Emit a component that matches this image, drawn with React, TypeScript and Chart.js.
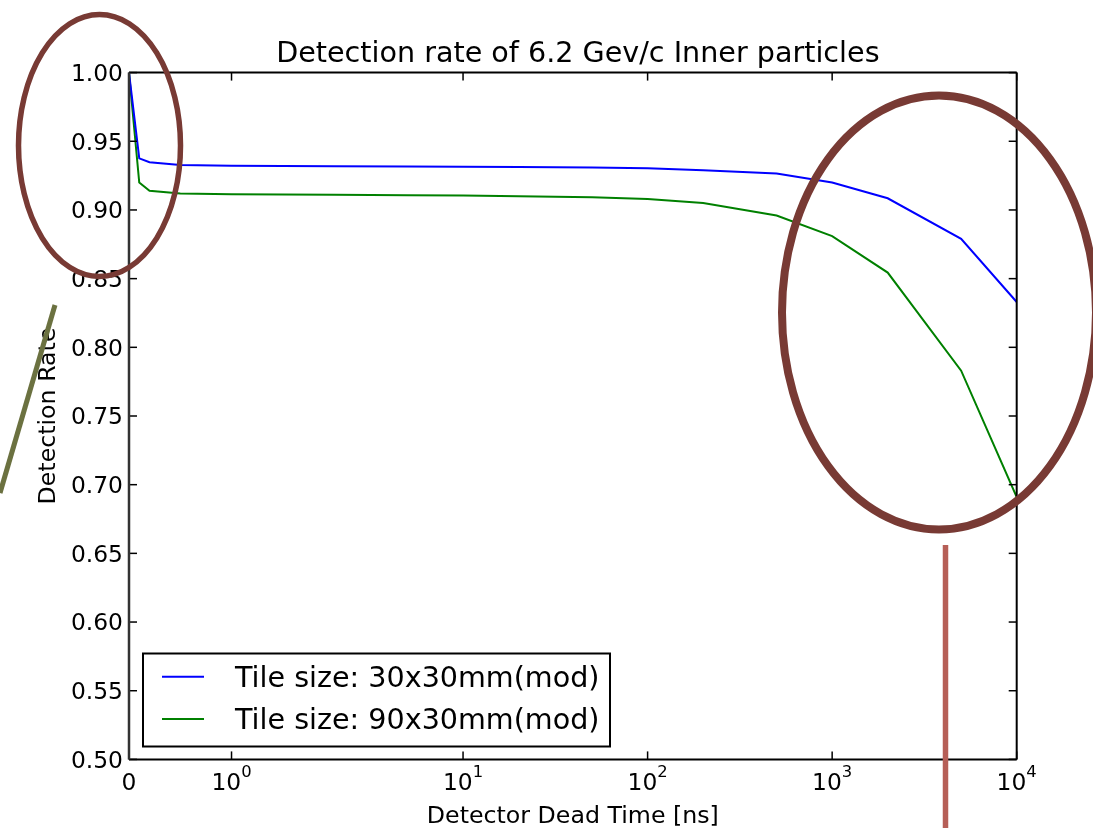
import { useEffect, useRef } from 'react';
import { Chart, registerables } from 'chart.js';

Chart.register(...registerables);

// ---- data ----
const deadTimes = [0, 0.1, 0.2, 0.5, 1, 2, 5, 10, 20, 50, 100, 200, 500, 1000, 2000, 5000, 10000];
const rate30x30 = [1.0, 0.9376, 0.9347, 0.9328, 0.9322, 0.9319, 0.9317, 0.9315, 0.9313, 0.931, 0.9303, 0.929, 0.9265, 0.92, 0.9085, 0.879, 0.833];
const rate90x30 = [1.0, 0.92, 0.914, 0.912, 0.9114, 0.9111, 0.9108, 0.9105, 0.91, 0.9093, 0.908, 0.905, 0.896, 0.881, 0.8544, 0.783, 0.691];
const seriesLabels = ['Tile size: 30x30mm(mod)', 'Tile size: 90x30mm(mod)'];
const seriesColors = ['#0000ff', '#008000'];
const xTickValues = [0, 1, 10, 100, 1000, 10000];
const xTickExponents: (number | null)[] = [null, 0, 1, 2, 3, 4];
const yTickValues = [0.5, 0.55, 0.6, 0.65, 0.7, 0.75, 0.8, 0.85, 0.9, 0.95, 1.0];
const titleText = 'Detection rate of 6.2 Gev/c Inner particles';
const xLabelText = 'Detector Dead Time [ns]';
const yLabelText = 'Detection Rate';

// symmetric log transform (matplotlib symlog, linthresh=2, linscale=1)
const LIN_THRESH = 2;
const LIN_SCALE = 1 / (1 - 1 / 10);
function symlog(v: number): number {
  const a = Math.abs(v);
  const s = Math.sign(v);
  return a <= LIN_THRESH ? (s * a / LIN_THRESH) * LIN_SCALE : s * (LIN_SCALE + Math.log10(a / LIN_THRESH));
}

const FONT = '"DejaVu Sans", "Liberation Sans", sans-serif';

const mplPlugin = {
  id: 'mplDecor',
  afterDraw(chart: any) {
    const { ctx, chartArea } = chart;
    const { left, right, top, bottom } = chartArea;
    const xs = chart.scales.x;
    const ys = chart.scales.y;
    ctx.save();
    const line = (x1: number, y1: number, x2: number, y2: number) => {
      ctx.beginPath();
      ctx.moveTo(x1, y1);
      ctx.lineTo(x2, y2);
      ctx.stroke();
    };

    // ticks (inward, both sides)
    ctx.strokeStyle = '#000';
    ctx.lineWidth = 1.5;
    ctx.fillStyle = '#000';
    ctx.font = `23.4px ${FONT}`;
    ctx.textAlign = 'right';
    ctx.textBaseline = 'alphabetic';
    yTickValues.forEach((v) => {
      const py = ys.getPixelForValue(v);
      line(left, py, left + 8, py);
      line(right, py, right - 8, py);
      ctx.fillText(v.toFixed(2), left - 6, py + 8.4);
    });

    xTickValues.forEach((v, i) => {
      const px = xs.getPixelForValue(symlog(v));
      line(px, bottom, px, bottom - 8);
      line(px, top, px, top + 8);
      const exp = xTickExponents[i];
      const base = 790;
      if (exp === null) {
        ctx.font = `23.4px ${FONT}`;
        ctx.textAlign = 'center';
        ctx.fillText(String(v), px, base);
      } else {
        ctx.font = `23.4px ${FONT}`;
        const wBase = ctx.measureText('10').width;
        ctx.font = `16.4px ${FONT}`;
        const wExp = ctx.measureText(String(exp)).width;
        const total = wBase + wExp;
        const sx = px - total / 2;
        ctx.textAlign = 'left';
        ctx.font = `23.4px ${FONT}`;
        ctx.fillText('10', sx, base);
        ctx.font = `16.4px ${FONT}`;
        ctx.fillText(String(exp), sx + wBase, base - 13);
      }
    });

    // spines
    ctx.lineWidth = 2;
    ctx.strokeStyle = '#000';
    line(left, top, right, top);
    line(right, top, right, bottom);
    line(left, bottom, right, bottom);
    ctx.strokeStyle = '#333';
    ctx.lineWidth = 2.5;
    line(left, top, left, bottom);

    // title
    ctx.fillStyle = '#000';
    ctx.font = `28.6px ${FONT}`;
    ctx.textAlign = 'center';
    ctx.fillText(titleText, (left + right) / 2 + 5, 62);

    // x label
    ctx.font = `23.7px ${FONT}`;
    ctx.fillText(xLabelText, (left + right) / 2, 823);

    // y label
    ctx.save();
    ctx.translate(55, (top + bottom) / 2);
    ctx.rotate(-Math.PI / 2);
    ctx.textAlign = 'center';
    ctx.fillText(yLabelText, 0, 0);
    ctx.restore();

    // legend
    const lx = 143, ly = 653.5, lw = 467, lh = 93;
    ctx.fillStyle = '#fff';
    ctx.fillRect(lx, ly, lw, lh);
    ctx.strokeStyle = '#000';
    ctx.lineWidth = 2;
    ctx.strokeRect(lx, ly, lw, lh);
    const rowsY = [676.7, 719];
    const rowsBase = [686.7, 728.5];
    seriesLabels.forEach((lab, i) => {
      ctx.strokeStyle = seriesColors[i];
      ctx.lineWidth = 2;
      line(162, rowsY[i], 204, rowsY[i]);
      ctx.fillStyle = '#000';
      ctx.font = `28.6px ${FONT}`;
      ctx.textAlign = 'left';
      ctx.fillText(lab, 235, rowsBase[i]);
    });

    // hand-drawn annotations overlaid on the figure
    ctx.strokeStyle = '#783a34';
    ctx.lineWidth = 5.5;
    ctx.beginPath();
    ctx.ellipse(99.5, 145.5, 81, 131, 0, 0, Math.PI * 2);
    ctx.stroke();
    ctx.lineWidth = 8;
    ctx.beginPath();
    ctx.ellipse(939, 312.5, 157, 217, 0, 0, Math.PI * 2);
    ctx.stroke();
    ctx.strokeStyle = '#6b7140';
    ctx.lineWidth = 5;
    line(55, 305, 0, 493);
    ctx.strokeStyle = '#b65f57';
    ctx.lineWidth = 5.5;
    line(945.5, 545, 945.5, 828);

    ctx.restore();
  },
};

export default function App() {
  const ref = useRef<HTMLCanvasElement>(null);
  useEffect(() => {
    document.body.style.margin = '0';
    const canvas = ref.current;
    if (!canvas) return;
    const chart = new Chart(canvas, {
      type: 'line',
      data: {
        datasets: [rate30x30, rate90x30].map((vals, i) => ({
          label: seriesLabels[i],
          data: deadTimes.map((t, j) => ({ x: symlog(t), y: vals[j] })),
          borderColor: seriesColors[i],
          backgroundColor: seriesColors[i],
          borderWidth: 2,
          pointRadius: 0,
          tension: 0,
          fill: false,
        })),
      },
      options: {
        animation: false,
        responsive: true,
        maintainAspectRatio: false,
        events: [],
        layout: { padding: { left: 129, right: 76.3, top: 72.6, bottom: 68.6 } },
        scales: {
          x: { type: 'linear', min: 0, max: symlog(10000), display: false },
          y: { type: 'linear', min: 0.5, max: 1.0, display: false },
        },
        plugins: {
          legend: { display: false },
          title: { display: false },
          tooltip: { enabled: false },
        },
      },
      plugins: [mplPlugin],
    } as any);
    return () => chart.destroy();
  }, []);
  return (
    <div style={{ position: 'relative', width: 1093, height: 828, background: '#fff' }}>
      <canvas ref={ref} />
    </div>
  );
}
